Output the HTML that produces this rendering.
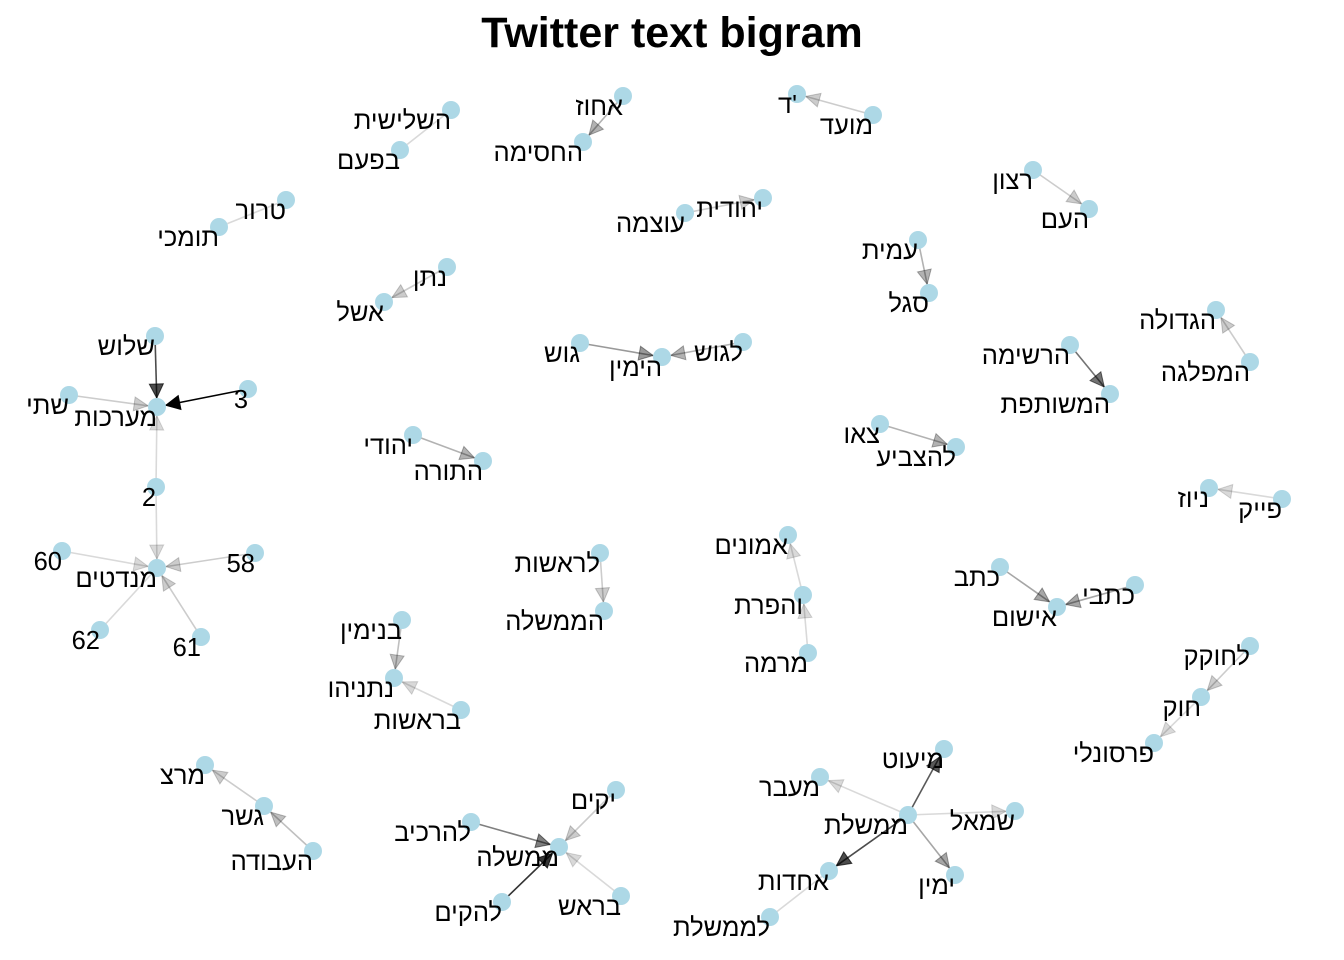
<!DOCTYPE html>
<html><head><meta charset="utf-8">
<style>
html,body{margin:0;padding:0;background:#fff;}
svg{display:block;}
text{font-family:"Liberation Sans","DejaVu Sans",sans-serif;}
</style></head>
<body>
<svg id="s" width="1344" height="960" xmlns="http://www.w3.org/2000/svg">
<text x="672" y="47" text-anchor="middle" font-size="43" font-weight="bold" fill="#000">Twitter text bigram</text>
<g id="e"></g><g id="n"></g><g id="t"></g>
</svg>
<script>
var N={
"השלישית":[451,110],"בפעם":[400,150],"אחוז":[623,96],"החסימה":[583,142],"ד'":[797,94],"מועד":[873,115],
"רצון":[1033,170],"העם":[1089,209],"טרור":[286,200],"תומכי":[219,227],"יהודית":[763,198],"עוצמה":[685,213],
"נתן":[447,267],"אשל":[384,302],"עמית":[918,240],"סגל":[929,293],"גוש":[580,343],"הימין":[662,357],"לגוש":[743,342],
"הגדולה":[1216,310],"המפלגה":[1250,362],"הרשימה":[1070,345],"המשותפת":[1110,394],"צאו":[880,424],"להצביע":[956,447],
"שלוש":[155,336],"שתי":[69,395],"מערכות":[157,407],"3":[248,389],"2":[156,487],"מנדטים":[157,568],
"60":[62,551],"58":[255,553],"62":[100,630],"61":[201,637],"יהודי":[413,435],"התורה":[483,461],
"פייק":[1282,499],"ניוז":[1209,488],"לראשות":[600,553],"הממשלה":[604,611],"אמונים":[788,535],"והפרת":[803,595],"מרמה":[808,653],
"כתב":[1000,567],"כתבי":[1135,585],"אישום":[1057,607],"לחוקק":[1250,646],"חוק":[1201,697],"פרסונלי":[1154,743],
"בנימין":[402,620],"נתניהו":[394,678],"בראשות":[461,710],"מרצ":[205,765],"גשר":[264,806],"העבודה":[313,851],
"יקים":[616,790],"להרכיב":[471,822],"ממשלה":[559,847],"להקים":[502,902],"בראש":[621,896],
"מיעוט":[944,749],"מעבר":[820,777],"ממשלת":[908,815],"שמאל":[1015,811],"ימין":[955,875],"אחדות":[829,871],"לממשלת":[770,917]
};
var E=[
["השלישית","בפעם",0.15,0],["אחוז","החסימה",0.3,1],["מועד","ד'",0.2,1],["רצון","העם",0.2,1],["טרור","תומכי",0.15,0],
["עוצמה","יהודית",0.2,1],["נתן","אשל",0.2,1],["עמית","סגל",0.3,1],["גוש","הימין",0.4,1],["לגוש","הימין",0.3,1],
["המפלגה","הגדולה",0.2,1],["הרשימה","המשותפת",0.55,1],["צאו","להצביע",0.3,1],
["שלוש","מערכות",0.7,1],["3","מערכות",1,1],["שתי","מערכות",0.2,1],["2","מערכות",0.15,1],
["2","מנדטים",0.15,1],["60","מנדטים",0.15,1],["58","מנדטים",0.2,1],["62","מנדטים",0.15,0],["61","מנדטים",0.2,1],
["יהודי","התורה",0.3,1],["פייק","ניוז",0.15,1],["לראשות","הממשלה",0.2,1],["והפרת","אמונים",0.15,1],["מרמה","והפרת",0.15,1],
["כתב","אישום",0.35,1],["כתבי","אישום",0.35,1],["לחוקק","חוק",0.2,1],["חוק","פרסונלי",0.15,1],
["בנימין","נתניהו",0.25,1],["בראשות","נתניהו",0.15,1],["גשר","מרצ",0.2,1],["העבודה","גשר",0.25,1],
["יקים","ממשלה",0.2,1],["להרכיב","ממשלה",0.5,1],["להקים","ממשלה",0.8,1],["בראש","ממשלה",0.15,1],
["ממשלת","מיעוט",0.65,1],["ממשלת","מעבר",0.15,1],["ממשלת","שמאל",0.15,1],["ממשלת","ימין",0.35,1],["ממשלת","אחדות",0.7,1],["לממשלת","אחדות",0.15,0]
];
var ns="http://www.w3.org/2000/svg";
function el(p,tag,a,txt){var x=document.createElementNS(ns,tag);for(var k in a)x.setAttribute(k,a[k]);if(txt!=null)x.textContent=txt;p.appendChild(x);return x;}
var ge=document.getElementById("e"),gn=document.getElementById("n"),gt=document.getElementById("t");
E.forEach(function(d){
 var a=N[d[0]],b=N[d[1]],al=d[2];
 var dx=b[0]-a[0],dy=b[1]-a[1],L=Math.sqrt(dx*dx+dy*dy),ux=dx/L,uy=dy/L;
 var c="rgba(0,0,0,"+al+")";
 var tx=b[0]-ux*9,ty=b[1]-uy*9;
 el(ge,"line",{x1:a[0],y1:a[1],x2:tx,y2:ty,stroke:c,"stroke-width":1.6});
 if(d[3]){
  var bx=tx-ux*14,by=ty-uy*14,px=-uy*7,py=ux*7;
  el(ge,"polygon",{points:tx+","+ty+" "+(bx+px)+","+(by+py)+" "+(bx-px)+","+(by-py),fill:c,stroke:c,"stroke-width":1});
 }
});
for(var k in N){var p=N[k];
 el(gn,"circle",{cx:p[0],cy:p[1],r:9,fill:"#add8e6"});
 el(gt,"text",{x:p[0],y:p[1]+19,"text-anchor":"end","font-size":25.5,fill:"#000"},k);
}
</script>
</body></html>
